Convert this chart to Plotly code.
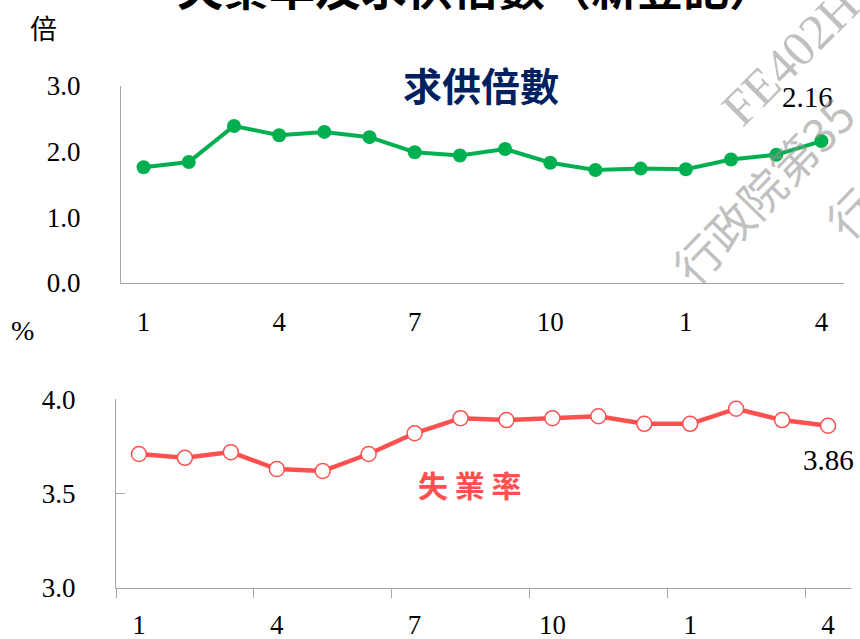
import plotly.graph_objects as go

months = ["1", "2", "3", "4", "5", "6", "7", "8", "9", "10", "11", "12", "1", "2", "3", "4"]
ratio = [1.76, 1.84, 2.39, 2.25, 2.30, 2.22, 1.99, 1.94, 2.04, 1.83, 1.72, 1.74, 1.73, 1.88, 1.95, 2.16]
unemp = [3.71, 3.69, 3.72, 3.63, 3.62, 3.71, 3.82, 3.90, 3.89, 3.90, 3.91, 3.87, 3.87, 3.95, 3.89, 3.86]
label_idx = [0, 3, 6, 9, 12, 15]
ratio_ticks = [0, 1, 2, 3]
unemp_ticks = [3.0, 3.5, 4.0]

W, H = 860, 639
xs = list(range(len(months)))

def px(x):
    return x / W

def py(y):
    return 1 - y / H

GREEN = "#00B050"
RED = "#FF5050"
NAVY = "#002060"
AX = "#A6A6A6"
SERIF = "Liberation Serif"
CJK = "Noto Sans CJK TC"

fig = go.Figure()
fig.add_trace(go.Scatter(
    x=xs, y=ratio, mode="lines+markers", xaxis="x", yaxis="y",
    line=dict(color=GREEN, width=4),
    marker=dict(color=GREEN, size=14),
    showlegend=False, hoverinfo="skip"))
fig.add_trace(go.Scatter(
    x=xs, y=unemp, mode="lines+markers", xaxis="x2", yaxis="y2",
    line=dict(color=RED, width=4.5),
    marker=dict(color="white", size=15, line=dict(color=RED, width=1.5)),
    showlegend=False, hoverinfo="skip"))

tickfont = dict(family=SERIF, size=27, color="black")
fig.update_layout(
    width=W, height=H,
    margin=dict(l=0, r=0, t=0, b=0, autoexpand=False),
    paper_bgcolor="white", plot_bgcolor="white",
    xaxis=dict(domain=[px(121), px(844)], anchor="y", range=[-0.5, len(months) - 0.5],
               tickmode="array", tickvals=[xs[i] for i in label_idx],
               ticktext=[months[i] for i in label_idx], automargin=False,
               ticks="", showline=True, linecolor=AX, linewidth=1.3,
               showgrid=False, zeroline=False, tickfont=tickfont, ticklabelstandoff=15),
    yaxis=dict(domain=[py(282.7), py(86)], anchor="x", range=[0, 3],
               tickmode="array", tickvals=ratio_ticks, tickformat=".1f", automargin=False,
               ticks="", showline=True, linecolor=AX, linewidth=1.3,
               showgrid=False, zeroline=False, tickfont=tickfont, ticklabelstandoff=34),
    xaxis2=dict(domain=[px(116), px(851)], anchor="y2", range=[-0.5, len(months) - 0.5],
                tickmode="array", tickvals=[xs[i] for i in label_idx],
                ticktext=[months[i] for i in label_idx], automargin=False,
                ticks="", showline=True, linecolor=AX, linewidth=1.3,
                showgrid=False, zeroline=False, tickfont=tickfont, ticklabelstandoff=12,
                minor=dict(tickmode="array", tickvals=[xs[i] - 0.5 for i in label_idx],
                           ticks="outside", ticklen=9, tickcolor=AX, tickwidth=1.3, showgrid=False)),
    yaxis2=dict(domain=[py(588), py(399.3)], anchor="x2", range=[3, 4],
                tickmode="array", tickvals=unemp_ticks, tickformat=".1f", automargin=False,
                ticks="inside", ticklen=9, tickcolor=AX, tickwidth=1.3,
                showline=True, linecolor=AX, linewidth=1.3,
                showgrid=False, zeroline=False, tickfont=tickfont, ticklabelstandoff=34),
)

def pann(text, x, y, size, color, family, angle=0):
    return dict(text=text, x=px(x), y=py(y), xref="paper", yref="paper", showarrow=False,
                xanchor="center", yanchor="middle", textangle=angle,
                font=dict(family=family, size=size, color=color))

ann = []
ann.append(pann("<b>失業率及求供倍數（新登記）</b>", 476, -15, 46, "black", CJK))
ann.append(pann("倍", 43, 28, 27, "black", CJK))
ann.append(pann("%", 22, 330, 28, "black", SERIF))
ann.append(pann("<b>求供倍數</b>", 481, 84, 39, NAVY, CJK))
ann.append(pann("<b>失 業 率</b>", 470, 484, 30, RED, CJK))
ann.append(dict(text=f"{ratio[-1]:.2f}", x=xs[-1], y=ratio[-1], xref="x", yref="y",
                showarrow=False, xshift=-14, yshift=44, xanchor="center", yanchor="middle",
                font=dict(family=SERIF, size=29, color="black")))
ann.append(dict(text=f"{unemp[-1]:.2f}", x=xs[-1], y=unemp[-1], xref="x2", yref="y2",
                showarrow=False, xshift=0, yshift=-34, xanchor="center", yanchor="middle",
                font=dict(family=SERIF, size=29, color="black")))
WM = "rgba(150,150,150,0.6)"
ann.append(pann("FE402H", 790, 57, 50, WM, SERIF, -45))
ann.append(pann("行政院第35", 762, 190, 46, WM, CJK, -46))
ann.append(pann("行", 850, 212, 46, WM, CJK, -46))
fig.update_layout(annotations=ann)

fig.write_html("out.html")
